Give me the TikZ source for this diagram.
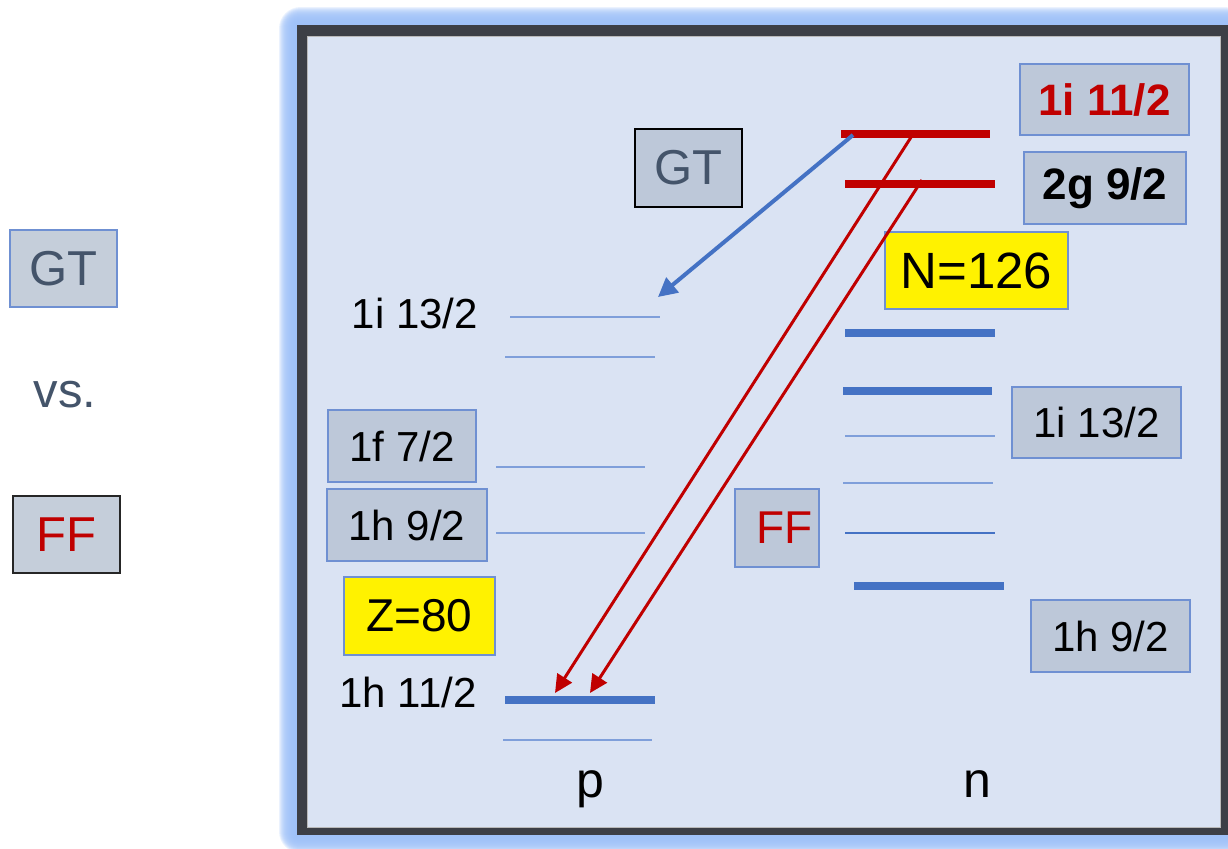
\documentclass[tikz,border=0pt]{standalone}
\usepackage{fontspec}
\setmainfont{Liberation Sans}
\usetikzlibrary{arrows.meta}
\definecolor{bg}{HTML}{DAE3F3}
\definecolor{framec}{HTML}{3C3F46}
\definecolor{glowc}{HTML}{9DC0F8}
\definecolor{boxfill}{HTML}{BDC8D9}
\definecolor{boxfillL}{HTML}{C5CEDA}
\definecolor{boxline}{HTML}{6F90D2}
\definecolor{lvl}{HTML}{4472C4}
\definecolor{lvlthin}{HTML}{7F9FDA}
\definecolor{ared}{HTML}{C00000}
\definecolor{slate}{HTML}{44546A}
\begin{document}
\begin{tikzpicture}[x=0.5pt,y=-0.5pt,
  box/.style={draw=boxline,fill=boxfill,line width=0.7pt,inner sep=0pt},
  ybox/.style={draw=boxline,fill=yellow,line width=0.7pt,inner sep=0pt},
  fbig/.style={font=\fontsize{24.5}{28}\selectfont},
  fmid/.style={font=\fontsize{23}{26}\selectfont},
  flab/.style={font=\fontsize{21}{24}\selectfont},
  fbold/.style={font=\fontsize{22}{25}\selectfont\bfseries},
  thick lvl/.style={draw=lvl,line width=4pt},
  thin lvl/.style={draw=lvlthin,line width=0.75pt},
  red lvl/.style={draw=ared,line width=4pt},
  redarrow/.style={draw=ared,line width=1.5pt,-{Triangle[length=9pt,width=8.5pt]}},
  bluearrow/.style={draw=lvl,line width=2pt,-{Triangle[length=9.5pt,width=9.5pt]}}]
\useasboundingbox (0,0) rectangle (1228,848);
% glow
\foreach \i [evaluate=\i as \r using \i*0.6] in {1,...,18}
  \fill[glowc,opacity=0.2,rounded corners=\r pt] (297-\i,25-\i) rectangle (1228+\i,835+\i);
% frame
\fill[framec] (297,25) rectangle (1240,835);
\fill[bg,draw=gray!55,line width=0.5pt] (307,36) rectangle (1220,827);

% left legend
\node[box,fill=boxfillL,minimum width=53.5pt,minimum height=38.5pt,text=slate,fbig] (gtL) at (63.5,268.5) {GT};
\node[text=slate,fbig] (vs) at (65,395) {vs.};
\node[box,fill=boxfillL,draw=black!85,minimum width=53.5pt,minimum height=38.5pt,text=ared,fbig] (ffL) at (66.5,534.5) {FF};

% neutron levels
\draw[red lvl] (841,134) -- (990,134);
\draw[red lvl] (845,184) -- (995,184);
\draw[thick lvl] (845,333) -- (995,333);
\draw[thick lvl] (843,391) -- (992,391);
\draw[thin lvl] (845,436) -- (995,436);
\draw[thin lvl] (843,483) -- (993,483);
\draw[thin lvl,draw=lvl,line width=1pt] (845,533) -- (995,533);
\draw[thick lvl] (854,586) -- (1004,586);

% proton levels
\draw[thin lvl] (510,317) -- (660,317);
\draw[thin lvl] (505,357) -- (655,357);
\draw[thin lvl] (496,467) -- (645,467);
\draw[thin lvl] (496,533) -- (645,533);
\draw[thick lvl] (505,700) -- (655,700);
\draw[thin lvl] (503,740) -- (652,740);

% boxes
\node[box,draw=black,minimum width=53.5pt,minimum height=39pt,text=slate,fbig] (gtM) at (688.5,168) {GT};
\node[box,minimum width=84.5pt,minimum height=35.5pt,text=ared,fbold] (n1i11) at (1104.5,99.5) {1i 11/2};
\node[box,minimum width=81pt,minimum height=36pt,fbold] (n2g9) at (1105,188) {2g 9/2};
\node[ybox,minimum width=91.5pt,minimum height=38.5pt,font=\fontsize{25.5}{28}\selectfont] (n126) at (976.5,270.5) {N=126};
\node[box,minimum width=84.5pt,minimum height=35.5pt,flab] (n1i13) at (1096.5,422.5) {1i 13/2};
\node[box,minimum width=42pt,minimum height=39pt,text=ared,fmid] (ffM) at (777,528) {\hspace*{7.5pt}FF};
\node[box,minimum width=79.5pt,minimum height=36pt,flab] (n1h9) at (1110.5,636) {1h 9/2};
\node[box,minimum width=74pt,minimum height=36pt,flab] (p1f7) at (402,446) {1f 7/2};
\node[box,minimum width=80pt,minimum height=36pt,flab] (p1h9) at (407,525) {1h 9/2};
\node[ybox,minimum width=75.5pt,minimum height=39pt,fmid] (z80) at (419.5,616) {Z=80};

% plain labels
\node[flab] (p1i13) at (415,313) {1i 13/2};
\node[flab] (p1h11) at (408,692) {1h 11/2};
\node[flab,font=\fontsize{25}{28}\selectfont,anchor=base] (pl) at (590,797) {p};
\node[flab,font=\fontsize{25}{28}\selectfont,anchor=base] (nl) at (977,797) {n};

% arrow end points
\coordinate (gtS) at (853,135);
\coordinate (gtE) at (658,297);
\coordinate (r1S) at (915,131);
\coordinate (r1E) at (555,693);
\coordinate (r2S) at (922,180);
\coordinate (r2E) at (590,693);

\draw[bluearrow] (gtS) -- (gtE);
\draw[redarrow] (r1S) -- (r1E);
\draw[redarrow] (r2S) -- (r2E);
\end{tikzpicture}
\end{document}
